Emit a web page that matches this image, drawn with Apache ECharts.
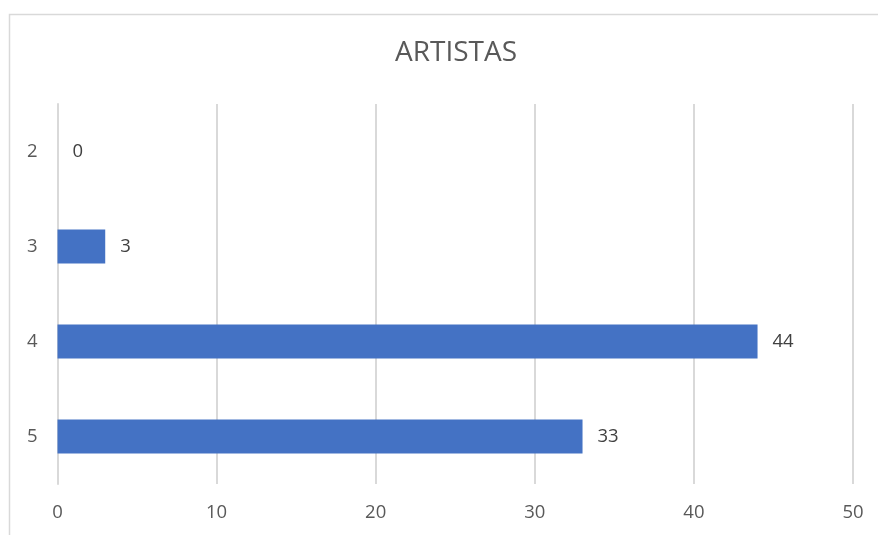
<!DOCTYPE html>
<html>
<head>
<meta charset="utf-8">
<script src="https://cdn.jsdelivr.net/npm/echarts@6/dist/echarts.min.js"></script>
<style>
  html, body { margin: 0; padding: 0; background: #ffffff; }
  #chart { width: 878px; height: 535px; }
</style>
</head>
<body>
<div id="chart"></div>
<script>
// Ratings and how many artists gave each one
const chartTitle = 'ARTISTAS';
const categories = ['2', '3', '4', '5'];
const values = [0, 3, 44, 33];
const axisMin = 0;
const axisMax = 50;
const axisStep = 10;

const FONT = '"Open Sans", "Noto Sans", sans-serif';

const chart = echarts.init(document.getElementById('chart'), null, { renderer: 'canvas' });

chart.setOption({
  backgroundColor: '#ffffff',
  animation: false,
  title: {
    text: chartTitle,
    left: 451,
    top: 34,
    textAlign: 'center',
    textStyle: {
      fontFamily: FONT,
      fontSize: 28,
      fontWeight: 'normal',
      color: '#595959'
    }
  },
  graphic: [{
    type: 'rect',
    silent: true,
    shape: { x: 9.5, y: 14.5, width: 900, height: 560 },
    style: { fill: 'none', stroke: '#d9d9d9', lineWidth: 1.5 }
  }],
  grid: {
    left: 57.5,
    right: 25,
    top: 104,
    bottom: 51,
    containLabel: false
  },
  xAxis: {
    type: 'value',
    min: axisMin,
    max: axisMax,
    interval: axisStep,
    axisLine: { show: false },
    axisTick: { show: false },
    splitLine: { show: true, lineStyle: { color: '#d9d9d9', width: 2 } },
    axisLabel: {
      margin: 19,
      fontFamily: FONT,
      fontSize: 18.5,
      color: '#595959'
    }
  },
  yAxis: {
    type: 'category',
    data: categories,
    inverse: true,
    axisLine: { show: true, lineStyle: { color: '#d9d9d9', width: 2 } },
    axisTick: { show: false },
    splitLine: { show: false },
    axisLabel: {
      margin: 20,
      fontFamily: FONT,
      fontSize: 18.5,
      color: '#595959'
    }
  },
  series: [{
    type: 'bar',
    data: values,
    barWidth: 34,
    itemStyle: { color: '#4472c4' },
    label: {
      show: true,
      position: 'right',
      distance: 15,
      fontFamily: FONT,
      fontSize: 18.5,
      color: '#404040'
    }
  }]
});
</script>
</body>
</html>
